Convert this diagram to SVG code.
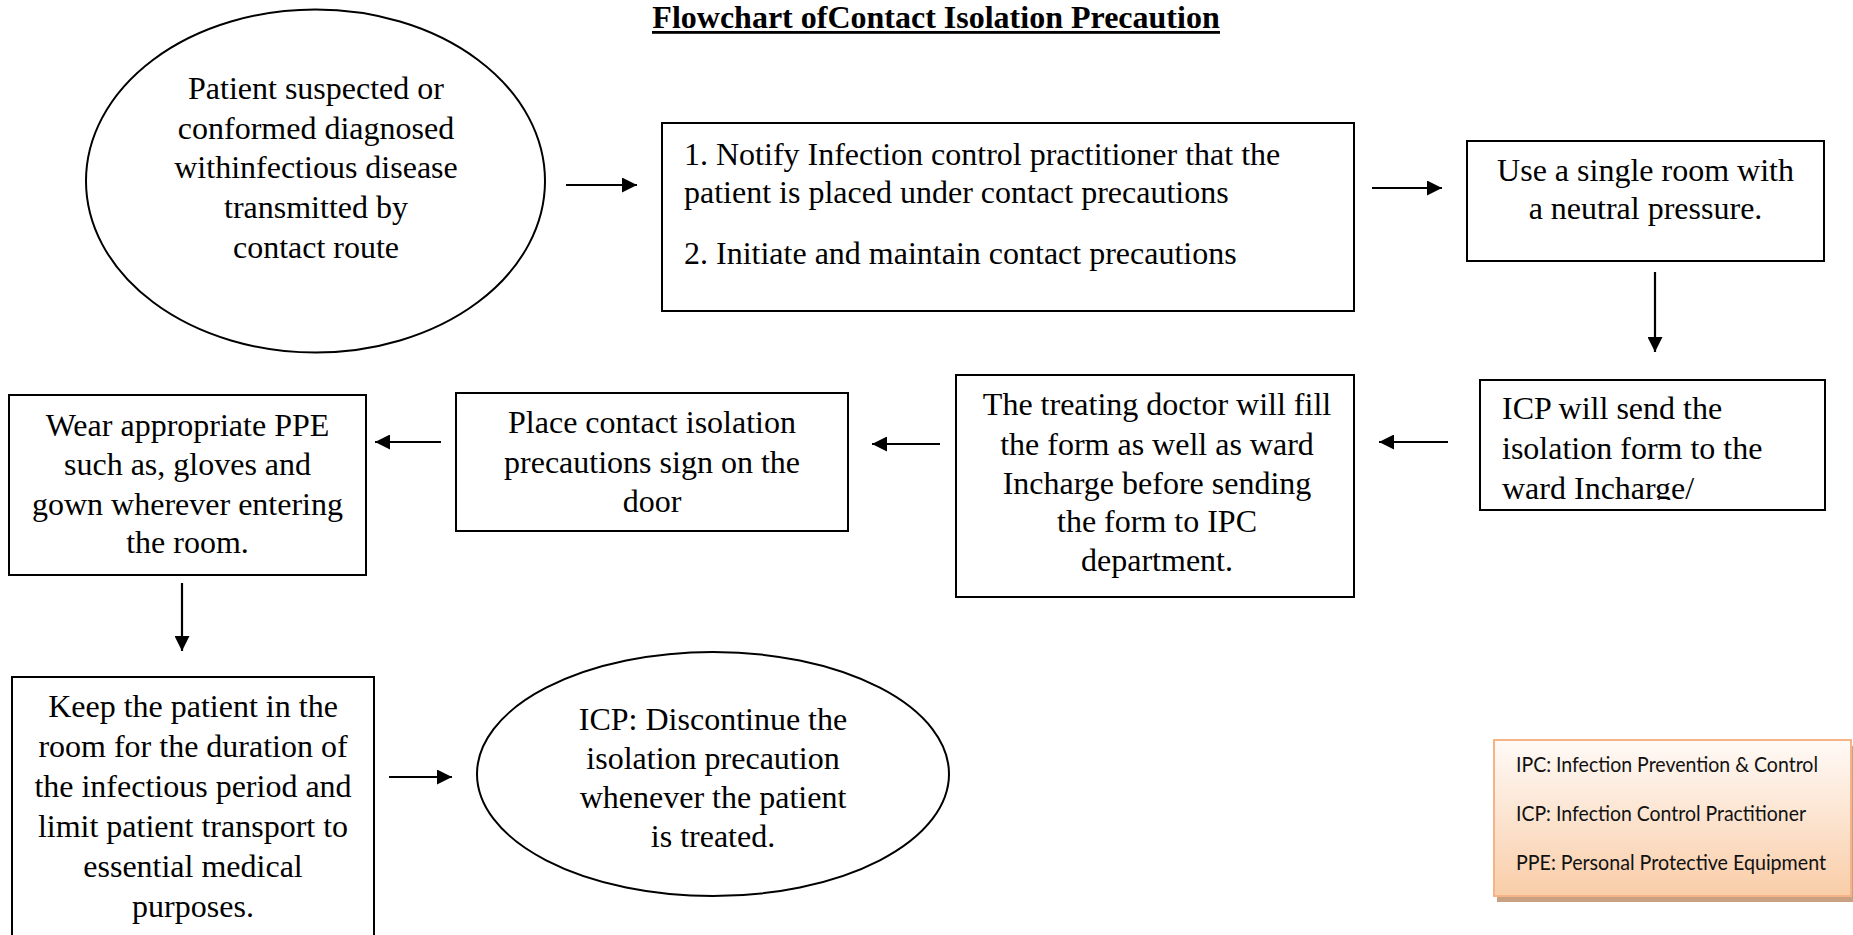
<svg xmlns="http://www.w3.org/2000/svg" width="1853" height="935" viewBox="0 0 1853 935">
<style>
.n{fill:#fff;stroke:#000;stroke-width:2}
.t{font-family:"Liberation Serif","Times New Roman",serif;font-size:32px;fill:#000}
.c{text-anchor:middle}
.a{stroke:#000;stroke-width:2.2;fill:none;marker-end:url(#ah)}
.lg{font-family:Lato,"Noto Sans",sans-serif;font-size:21px;fill:#111}
</style>
<defs>
<marker id="ah" markerUnits="userSpaceOnUse" viewBox="0 0 15 15" markerWidth="15" markerHeight="15" refX="15" refY="7.5" orient="auto">
<path d="M0,0 L15,7.5 L0,15 z" fill="#000"/>
</marker>
<linearGradient id="lgg" x1="0" y1="0" x2="0" y2="1">
<stop offset="0" stop-color="#fffaf7"/>
<stop offset="1" stop-color="#f9cda8"/>
</linearGradient>
<clipPath id="cp4"><rect x="1480" y="380" width="345" height="120"/></clipPath>
</defs>
<rect width="1853" height="935" fill="#fff"/>

<g id="title">
<text class="t c" x="936" y="28" style="font-weight:bold">Flowchart ofContact Isolation Precaution</text>
<rect x="652" y="31" width="568" height="2.8" fill="#000"/>
</g>

<g id="n1">
<ellipse class="n" cx="315.5" cy="181" rx="229.5" ry="171.5"/>
<text class="t c" x="316" y="99">Patient suspected or</text>
<text class="t c" x="316" y="139">conformed diagnosed</text>
<text class="t c" x="316" y="178">withinfectious disease</text>
<text class="t c" x="316" y="218">transmitted by</text>
<text class="t c" x="316" y="258">contact route</text>
</g>

<g id="n2">
<rect class="n" x="662" y="123" width="692" height="188"/>
<text class="t" x="684" y="165">1. Notify Infection control practitioner that the</text>
<text class="t" x="684" y="203">patient is placed under contact precautions</text>
<text class="t" x="684" y="264">2. Initiate and maintain contact precautions</text>
</g>

<g id="n3">
<rect class="n" x="1467" y="141" width="357" height="120"/>
<text class="t c" x="1645.5" y="181">Use a single room with</text>
<text class="t c" x="1645.5" y="219">a neutral pressure.</text>
</g>

<g id="n4">
<rect class="n" x="1480" y="380" width="345" height="130"/>
<g clip-path="url(#cp4)">
<text class="t" x="1502" y="419">ICP will send the</text>
<text class="t" x="1502" y="459">isolation form to the</text>
<text class="t" x="1502" y="499">ward Incharge/</text>
</g>
</g>

<g id="n5">
<rect class="n" x="956" y="375" width="398" height="222"/>
<text class="t c" x="1157" y="415">The treating doctor will fill</text>
<text class="t c" x="1157" y="455">the form as well as ward</text>
<text class="t c" x="1157" y="494">Incharge before sending</text>
<text class="t c" x="1157" y="532">the form to IPC</text>
<text class="t c" x="1157" y="571">department.</text>
</g>

<g id="n6">
<rect class="n" x="456" y="393" width="392" height="138"/>
<text class="t c" x="652" y="433">Place contact isolation</text>
<text class="t c" x="652" y="473">precautions sign on the</text>
<text class="t c" x="652" y="512">door</text>
</g>

<g id="n7">
<rect class="n" x="9" y="395" width="357" height="180"/>
<text class="t c" x="187.5" y="436">Wear appropriate PPE</text>
<text class="t c" x="187.5" y="475">such as, gloves and</text>
<text class="t c" x="187.5" y="515">gown wherever entering</text>
<text class="t c" x="187.5" y="553">the room.</text>
</g>

<g id="n8">
<rect class="n" x="12" y="677" width="362" height="290"/>
<text class="t c" x="193" y="717">Keep the patient in the</text>
<text class="t c" x="193" y="757">room for the duration of</text>
<text class="t c" x="193" y="797">the infectious period and</text>
<text class="t c" x="193" y="837">limit patient transport to</text>
<text class="t c" x="193" y="877">essential medical</text>
<text class="t c" x="193" y="917">purposes.</text>
</g>

<g id="n9">
<ellipse class="n" cx="713" cy="774" rx="236" ry="122"/>
<text class="t c" x="713" y="730">ICP: Discontinue the</text>
<text class="t c" x="713" y="769">isolation precaution</text>
<text class="t c" x="713" y="808">whenever the patient</text>
<text class="t c" x="713" y="847">is treated.</text>
</g>

<g id="legend">
<rect x="1497" y="746" width="357" height="156" fill="#c9a081"/>
<rect x="1494" y="740" width="357" height="156" fill="url(#lgg)" stroke="#f5b487" stroke-width="2"/>
<text class="lg" x="1516" y="772" textLength="302" lengthAdjust="spacingAndGlyphs">IPC: Infection Prevention &amp; Control</text>
<text class="lg" x="1516" y="821" textLength="290" lengthAdjust="spacingAndGlyphs">ICP: Infection Control Practitioner</text>
<text class="lg" x="1516" y="870" textLength="310" lengthAdjust="spacingAndGlyphs">PPE: Personal Protective Equipment</text>
</g>

<g id="connectors">
<line class="a" x1="566" y1="185" x2="637" y2="185"/>
<line class="a" x1="1372" y1="188" x2="1442" y2="188"/>
<line class="a" x1="1655" y1="272" x2="1655" y2="352"/>
<line class="a" x1="1448" y1="442" x2="1379" y2="442"/>
<line class="a" x1="940" y1="444" x2="872" y2="444"/>
<line class="a" x1="441" y1="442" x2="375" y2="442"/>
<line class="a" x1="182" y1="583" x2="182" y2="651"/>
<line class="a" x1="389" y1="777" x2="452" y2="777"/>
</g>
</svg>
